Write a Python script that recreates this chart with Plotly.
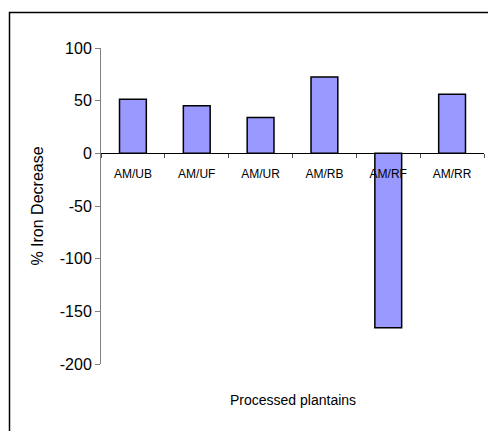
import plotly.graph_objects as go

# Processed plantain samples and their percentage iron decrease
categories = ["AM/UB", "AM/UF", "AM/UR", "AM/RB", "AM/RF", "AM/RR"]
iron_decrease = [51.4, 45.1, 34.0, 72.4, -165.7, 56.2]
y_ticks = [-200, -150, -100, -50, 0, 50, 100]
y_tick_labels = [str(v) for v in y_ticks]

W, H = 488, 431
L, R, T, B = 101, 4, 48, 67
pw, ph = W - L - R, H - T - B

font_family = "Arial, Liberation Sans, sans-serif"

fig = go.Figure(
    go.Bar(
        x=categories,
        y=iron_decrease,
        width=0.42,
        marker=dict(color="#9999FF", line=dict(color="#000000", width=1.5)),
    )
)

y_min, y_max = -200, 100
zero_pos = (0 - y_min) / (y_max - y_min)


def px_x(px):
    return (px - L) / pw


def px_y(py):
    return (H - B - py) / ph


fig.update_layout(
    width=W,
    height=H,
    autosize=False,
    margin=dict(l=L, r=R, t=T, b=B),
    paper_bgcolor="white",
    plot_bgcolor="white",
    showlegend=False,
    font=dict(family=font_family, color="black"),
    xaxis=dict(
        type="category",
        anchor="free",
        position=zero_pos,
        showline=True,
        linecolor="#000000",
        linewidth=1,
        ticks="outside",
        tickson="boundaries",
        ticklen=4,
        tickcolor="#555555",
        ticklabelstandoff=9,
        tickfont=dict(size=12, family=font_family, color="black"),
        showgrid=False,
        zeroline=False,
    ),
    yaxis=dict(
        range=[y_min, y_max],
        tickmode="array",
        tickvals=y_ticks,
        ticktext=y_tick_labels,
        ticks="outside",
        ticklen=5,
        tickcolor="#808080",
        showline=True,
        linecolor="#808080",
        linewidth=1,
        showgrid=False,
        zeroline=False,
        tickfont=dict(size=16, family=font_family, color="black"),
        title=dict(
            text="% Iron Decrease",
            font=dict(size=16, family=font_family, color="black"),
            standoff=12,
        ),
    ),
    annotations=[
        dict(
            text="Processed plantains",
            xref="paper",
            yref="paper",
            x=0.5,
            y=px_y(400),
            xanchor="center",
            yanchor="middle",
            showarrow=False,
            font=dict(size=14, family=font_family, color="black"),
        )
    ],
    shapes=[
        dict(
            type="rect",
            xref="paper",
            yref="paper",
            x0=px_x(9.5),
            x1=px_x(500),
            y0=px_y(445),
            y1=px_y(12.5),
            line=dict(color="#000000", width=1.5),
            fillcolor="rgba(0,0,0,0)",
            layer="below",
        )
    ],
)

fig.write_html("out.html")
